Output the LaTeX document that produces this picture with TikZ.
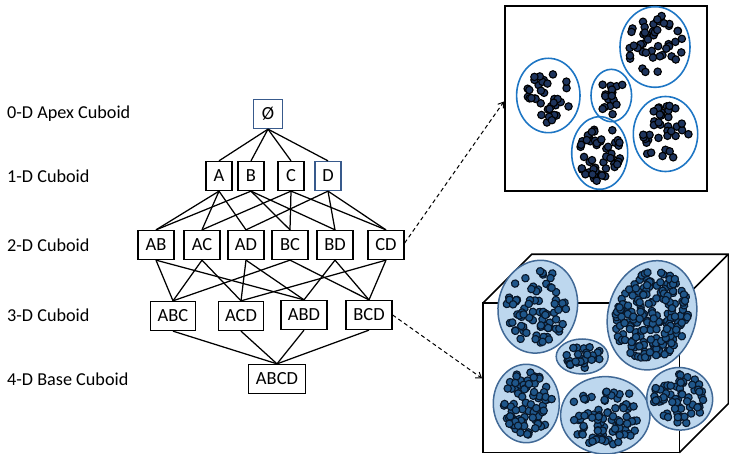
\documentclass[tikz,border=0pt]{standalone}
\usepackage{fontspec}
\setmainfont{Carlito}
\usetikzlibrary{arrows.meta}
\definecolor{boxblue}{RGB}{56,90,140}
\definecolor{ringblue}{RGB}{30,118,196}
\definecolor{dotnavy}{RGB}{30,52,92}
\definecolor{dotmid}{RGB}{31,86,138}
\definecolor{dotline}{RGB}{8,22,40}
\definecolor{cloudfill}{RGB}{189,215,238}
\definecolor{cloudline}{RGB}{65,105,150}
\tikzset{
  cell/.style={draw=black, line width=1.3pt, minimum height=29pt, inner sep=0pt, font=\fontsize{18.5}{21}\selectfont},
  bluecell/.style={cell, draw=boxblue},
  lvl/.style={anchor=west, inner sep=0pt, font=\fontsize{18.2}{21}\selectfont},
  edge/.style={line width=1.25pt},
  dashedarrow/.style={dashed, dash pattern=on 4pt off 3pt, line width=1pt, -{Straight Barb[length=5pt,width=7pt]}},
  ring/.style={draw=ringblue, line width=1.6pt},
  cloud/.style={draw=cloudline, fill=cloudfill, line width=1.5pt},
  dotA/.style={fill=dotnavy, draw=black, line width=1.1pt},
  dotB/.style={fill=dotmid, draw=dotline, line width=1.1pt},
  frame/.style={draw=black, line width=1.6pt}
}
\newcommand\mycluster[9]{%
  \begin{scope}[shift={(#1,#2)},rotate=#5]
    \pgfmathsetseed{#7}
    \foreach \k in {1,...,#6}{
      \pgfmathsetmacro\clR{#9*sqrt(rnd)}
      \pgfmathsetmacro\clT{360*rnd}
      \path[#8] ({#3*\clR*cos(\clT)},{#4*\clR*sin(\clT)}) circle[radius=3.7pt];
    }
  \end{scope}}
\begin{document}
\begin{tikzpicture}[x=1pt,y=-1pt]
\useasboundingbox (0,0) rectangle (729,454);

% level labels
\node[lvl] (l0) at (7,113.5) {0-D Apex Cuboid};
\node[lvl] (l1) at (7,176) {1-D Cuboid};
\node[lvl] (l2) at (7,245) {2-D Cuboid};
\node[lvl] (l3) at (7,315) {3-D Cuboid};
\node[lvl] (l4) at (7,379) {4-D Base Cuboid};

% lattice nodes
\node[bluecell, minimum width=29pt] (root) at (268,114) {Ø};
\node[cell, minimum width=26pt] (A) at (219,176) {A};
\node[cell, minimum width=26pt] (B) at (251,176) {B};
\node[cell, minimum width=26pt] (C) at (291,176) {C};
\node[bluecell, minimum width=26pt] (D) at (328,176) {D};

\node[cell, minimum width=36pt] (AB) at (156,245) {AB};
\node[cell, minimum width=36pt] (AC) at (202,245) {AC};
\node[cell, minimum width=36pt] (AD) at (246,245) {AD};
\node[cell, minimum width=36pt] (BC) at (290,245) {BC};
\node[cell, minimum width=36pt] (BD) at (335,245) {BD};
\node[cell, minimum width=36pt] (CD) at (386,245) {CD};

\node[cell, minimum width=45pt] (ABC) at (173,316) {ABC};
\node[cell, minimum width=45pt] (ACD) at (241,316) {ACD};
\node[cell, minimum width=46pt] (ABD) at (304,315) {ABD};
\node[cell, minimum width=46pt] (BCD) at (369,315) {BCD};

\node[cell, minimum width=57pt] (ABCD) at (277,379) {ABCD};

% lattice edges
\foreach \t in {A,B,C,D} \draw[edge] (root.south) -- (\t.north);
\foreach \s/\t in {A/AB,A/AC,A/AD,B/AB,B/BC,B/BD,C/AC,C/BC,C/CD,D/AD,D/BD,D/CD}
  \draw[edge] (\s.south) -- (\t.north);
\foreach \s/\t in {AB/ABC,AB/ABD,AC/ABC,AC/ACD,AD/ACD,AD/ABD,BC/ABC,BC/BCD,BD/ABD,BD/BCD,CD/ACD,CD/BCD}
  \draw[edge] (\s.south) -- (\t.north);
\foreach \s in {ABC,ACD,ABD,BCD} \draw[edge] (\s.south) -- (ABCD.north);

% top panel: 2-D cluster view
\draw[frame] (505,6) rectangle (707,191);
\draw[ring] (548.3,95.5) ellipse [x radius=31.7, y radius=37.2];
\draw[ring] (611.3,95.5) ellipse [x radius=20.3, y radius=26.2];
\draw[ring] (655,47) ellipse [x radius=35, y radius=40.3];
\draw[ring] (599.7,153) ellipse [x radius=28, y radius=36.3];
\draw[ring] (665.5,134) ellipse [x radius=32.2, y radius=37.5];
\mycluster{548.3}{95.5}{31.7}{37.2}{0}{36}{11}{dotA}{0.75}
\mycluster{611.3}{95.5}{20.3}{26.2}{0}{17}{22}{dotA}{0.72}
\mycluster{655}{47}{35}{40.3}{0}{46}{33}{dotA}{0.8}
\mycluster{599.7}{153}{28}{36.3}{0}{52}{44}{dotA}{0.78}
\mycluster{665.5}{134}{32.2}{37.5}{0}{38}{55}{dotA}{0.78}

% bottom panel: 3-D cluster view (cube)
\draw[frame, line join=miter] (482.7,452.7) -- (482.7,303.3) -- (679.3,303.3) -- (679.3,452.7);
\draw[frame] (482.7,303.3) -- (531.7,254.3) -- (728.3,254.3) -- (679.3,303.3);
\draw[frame] (728.3,254.3) -- (728.3,403.7) -- (679.3,452.7);
\draw[frame] (482.7,452.7) -- (679.3,452.7);

\draw[cloud, rotate around={-12:(537.8,306.7)}] (537.8,306.7) ellipse [x radius=39.5, y radius=46.7];
\draw[cloud, rotate around={-15:(652,315.3)}] (652,315.3) ellipse [x radius=44, y radius=55.3];
\draw[cloud] (582.2,356.5) ellipse [x radius=26, y radius=17.5];
\draw[cloud] (526.3,403.5) ellipse [x radius=33, y radius=39.2];
\draw[cloud] (605.3,415.3) ellipse [x radius=44.7, y radius=38.7];
\draw[cloud, rotate around={-10:(679.7,398.8)}] (679.7,398.8) ellipse [x radius=33, y radius=31.2];

\mycluster{537.8}{306.7}{39.5}{46.7}{-12}{75}{101}{dotB}{0.8}
\mycluster{652}{315.3}{44}{55.3}{-15}{190}{202}{dotB}{0.82}
\mycluster{582.2}{356.5}{26}{17.5}{0}{30}{303}{dotB}{0.75}
\mycluster{526.3}{403.5}{33}{39.2}{0}{85}{404}{dotB}{0.8}
\mycluster{605.3}{415.3}{44.7}{38.7}{0}{85}{505}{dotB}{0.8}
\mycluster{679.7}{398.8}{33}{31.2}{-10}{62}{606}{dotB}{0.8}

% dashed pointers
\coordinate (topin) at (504,101.5);
\coordinate (botin) at (482,378.3);
\draw[dashedarrow] (CD.east) ++(0,-2) -- (topin);
\draw[dashedarrow] (BCD.east) -- (botin);
\end{tikzpicture}
\end{document}
